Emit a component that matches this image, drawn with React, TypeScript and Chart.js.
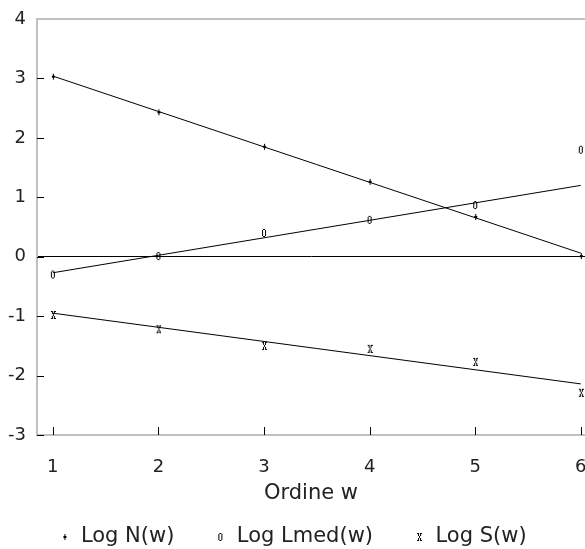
import React, { useEffect, useRef } from "react";
import { Chart, registerables } from "chart.js";

Chart.register(...registerables);

const orders = [1, 2, 3, 4, 5, 6];
const logN = [3.03, 2.43, 1.85, 1.26, 0.67, 0.01];
const logLmed = [-0.3, 0.01, 0.4, 0.62, 0.87, 1.8];
const logS = [-0.98, -1.22, -1.5, -1.55, -1.77, -2.29];

const fitX = [1, 6];
const fitN = [3.04, 0.06];
const fitLmed = [-0.27, 1.2];
const fitS = [-0.95, -2.14];

const yTicks = [-3, -2, -1, 0, 1, 2, 3, 4];
const xTicks = [1, 2, 3, 4, 5, 6];
const seriesNames = ["Log N(w)", "Log Lmed(w)", "Log S(w)"];

function px(ctx: CanvasRenderingContext2D, pts: number[][]) {
  pts.forEach(([x, y]) => ctx.fillRect(x, y, 1, 1));
}

function makeMarker(kind: string): HTMLCanvasElement {
  const c = document.createElement("canvas");
  c.width = 6;
  c.height = 10;
  const ctx = c.getContext("2d")!;
  ctx.fillStyle = "#000";
  if (kind === "n") {
    ctx.fillRect(3, 2, 1, 6);
    ctx.fillRect(2, 4, 3, 2);
  } else if (kind === "o") {
    px(ctx, [
      [2, 1], [3, 1],
      [1, 2], [4, 2],
      [1, 3], [4, 3],
      [1, 4], [4, 4],
      [1, 5], [4, 5],
      [1, 6], [4, 6],
      [1, 7], [4, 7],
      [2, 8], [3, 8],
    ]);
  } else {
    px(ctx, [
      [1, 1], [2, 1], [4, 1], [5, 1],
      [2, 2], [4, 2],
      [2, 3], [4, 3],
      [3, 4],
      [3, 5],
      [2, 6], [4, 6],
      [2, 7], [4, 7],
      [1, 8], [2, 8], [4, 8], [5, 8],
    ]);
  }
  return c;
}

const framePlugin = {
  id: "frame",
  afterDatasetsDraw(chart: any) {
    const { ctx, chartArea } = chart;
    const xs = chart.scales.x;
    const ys = chart.scales.y;
    ctx.save();
    ctx.strokeStyle = "#c0c0c0";
    ctx.lineWidth = 2;
    ctx.beginPath();
    ctx.moveTo(chartArea.left, chartArea.top);
    ctx.lineTo(chartArea.right, chartArea.top);
    ctx.stroke();
    ctx.strokeStyle = "#000";
    ctx.lineWidth = 1;
    ctx.beginPath();
    ys.ticks.forEach((t: any) => {
      if (t.value >= ys.max) return;
      const y = Math.round(ys.getPixelForValue(t.value)) + 0.5;
      ctx.moveTo(chartArea.left, y);
      ctx.lineTo(chartArea.left + 7, y);
    });
    xs.ticks.forEach((t: any) => {
      const x = Math.round(xs.getPixelForValue(t.value)) + 0.5;
      ctx.moveTo(x, chartArea.bottom);
      ctx.lineTo(x, chartArea.bottom - 8);
    });
    ctx.stroke();
    ctx.restore();
  },
};

export default function App() {
  const ref = useRef<HTMLCanvasElement>(null);
  useEffect(() => {
    document.body.style.margin = "0";
    const markers = [makeMarker("n"), makeMarker("o"), makeMarker("x")];
    const series = [logN, logLmed, logS];
    const fits = [fitN, fitLmed, fitS];
    const pointSets = series.map((vals, i) => ({
      label: seriesNames[i],
      data: orders.map((x, j) => ({ x, y: vals[j] })),
      showLine: false,
      pointStyle: markers[i],
      pointRadius: 5,
      borderColor: "#000",
      backgroundColor: "#000",
    }));
    const lineSets = fits.map((vals, i) => ({
      label: "fit" + i,
      data: fitX.map((x, j) => ({ x, y: vals[j] })),
      showLine: true,
      pointRadius: 0,
      borderColor: "#000",
      borderWidth: 1,
      backgroundColor: "#000",
    }));
    const chart = new Chart(ref.current!, {
      type: "scatter",
      data: { datasets: [...pointSets, ...lineSets] as any },
      plugins: [framePlugin],
      options: {
        animation: false,
        responsive: false,
        maintainAspectRatio: false,
        layout: { padding: { top: 19, left: 0, right: 0, bottom: 0 }, autoPadding: false },
        plugins: {
          tooltip: { enabled: false },
          legend: {
            position: "bottom",
            maxHeight: 62.5,
            labels: {
              usePointStyle: true,
              boxWidth: 12,
              padding: 40,
              color: "#222",
              font: { family: "DejaVu Sans", size: 21 },
              filter: (item: any) => item.datasetIndex < 3,
            },
          },
        },
        scales: {
          x: {
            type: "linear",
            min: 0.85,
            max: 6.04,
            afterBuildTicks: (s: any) => {
              s.ticks = xTicks.map((v) => ({ value: v }));
            },
            afterFit: (s: any) => {
              s.height = 51.5;
              s.paddingLeft = 0;
              s.paddingRight = 0;
            },
            grid: { display: false, drawTicks: false },
            border: { color: "#c0c0c0", width: 2 },
            ticks: {
              color: "#222",
              padding: 22,
              font: { family: "DejaVu Sans", size: 18 },
              maxRotation: 0,
            },
            title: {
              display: true,
              text: "Ordine w",
              color: "#222",
              font: { family: "DejaVu Sans", size: 21 },
              padding: { top: 0, bottom: -20 },
            },
          },
          y: {
            type: "linear",
            min: -3,
            max: 4,
            afterBuildTicks: (s: any) => {
              s.ticks = yTicks.map((v) => ({ value: v }));
            },
            afterFit: (s: any) => {
              s.width = 37;
              s.paddingTop = 0;
              s.paddingBottom = 0;
            },
            grid: {
              drawTicks: false,
              color: (c: any) => (c.tick && c.tick.value === 0 ? "#000" : "rgba(0,0,0,0)"),
              lineWidth: 1,
            },
            border: { color: "#c0c0c0", width: 2 },
            ticks: {
              color: "#222",
              padding: 11,
              font: { family: "DejaVu Sans", size: 18 },
            },
          },
        },
      },
    });
    return () => chart.destroy();
  }, []);
  return (
    <div style={{ width: 585, height: 549 }}>
      <canvas ref={ref} width={585} height={549} style={{ display: "block" }} />
    </div>
  );
}
